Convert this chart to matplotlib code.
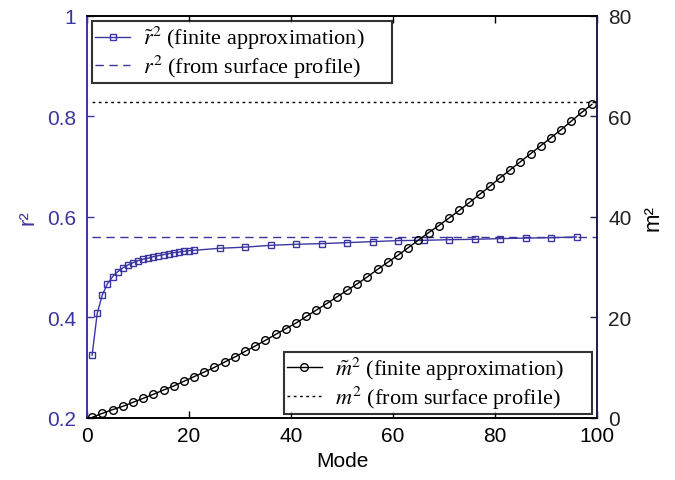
import matplotlib
matplotlib.use("Agg")
import matplotlib.pyplot as plt
import numpy as np

plt.rcParams['mathtext.fontset'] = 'stix'

# Data
r2_modes = list(range(1, 22)) + list(range(26, 97, 5))
r2_values = [0.325, 0.408, 0.445, 0.467, 0.481, 0.491, 0.4985, 0.5045, 0.509, 0.513,
             0.516, 0.518, 0.521, 0.523, 0.525, 0.527, 0.529, 0.530, 0.5317, 0.533, 0.5337,
             0.5377, 0.540, 0.5436, 0.5457, 0.547, 0.549, 0.551, 0.553, 0.5536, 0.5548,
             0.5556, 0.557, 0.558, 0.5588, 0.5602]
r2_surface = 0.561

m2_modes = list(range(1, 100, 2))
m2_values = [0.13, 0.93, 1.66, 2.32, 3.12, 3.91, 4.71, 5.57, 6.37, 7.30,
             8.23, 9.15, 10.08, 11.14, 12.14, 13.26, 14.33, 15.46, 16.65, 17.78,
             18.9, 20.2, 21.5, 22.75, 24.1, 25.4, 26.7, 28.1, 29.6, 31.0,
             32.4, 33.9, 35.4, 36.9, 38.3, 39.8, 41.3, 42.9, 44.5, 46.1,
             47.8, 49.4, 51.0, 52.6, 54.2, 55.8, 57.4, 59.1, 60.8, 62.4]
m2_surface = 62.9

line_span = [1, 100]

blue = '#3b35a0'
navy = '#1c1c4c'

fig = plt.figure(figsize=(6.75, 4.81), dpi=100)
ax = fig.add_axes([0.1289, 0.1289, 0.7555, 0.8358])
ax2 = ax.twinx()

tickfont = {'family': 'Liberation Sans', 'size': 15}
legfont = {'family': 'Liberation Serif', 'size': 16}

l1, = ax.plot(r2_modes, r2_values, '-s', color=blue, lw=1.0, ms=4.5,
              mfc='none', mec=blue, mew=1.0)
l2, = ax.plot(line_span, [r2_surface, r2_surface], '--', color=blue, lw=1.0,
              dashes=(6, 4))
l3, = ax2.plot(m2_modes, m2_values, '-o', color='black', lw=1.0, ms=5.5,
               mfc='none', mec='black', mew=1.0)
l4, = ax2.plot(line_span, [m2_surface, m2_surface], ':', color='black', lw=1.0,
               dashes=(2, 2.5))

ax.set_xlim(0, 100)
ax.set_ylim(0.2, 1.0)
ax2.set_ylim(0, 80)
ax.set_xticks([0, 20, 40, 60, 80, 100])
ax.set_yticks([0.2, 0.4, 0.6, 0.8, 1.0])
ax.set_yticklabels(['0.2', '0.4', '0.6', '0.8', '1'])
ax2.set_yticks([0, 20, 40, 60, 80])

ax.tick_params(axis='x', direction='in', top=True, length=5, width=1,
               labelsize=15, colors='black', pad=6)
ax.tick_params(axis='y', direction='in', length=5, width=1, labelsize=15,
               colors=blue, pad=8)
ax2.tick_params(axis='y', direction='in', length=5, width=1, labelsize=15,
                colors=navy, labelcolor='#222222', pad=8)

for lab in ax.get_xticklabels() + ax.get_yticklabels() + ax2.get_yticklabels():
    lab.set_fontfamily('Liberation Sans')

for a in (ax, ax2):
    a.spines['top'].set_color('black')
    a.spines['bottom'].set_color('black')
    a.spines['left'].set_color(blue)
    a.spines['right'].set_color(navy)
    for s in a.spines.values():
        s.set_linewidth(1.2)

ax.set_xlabel('Mode', fontdict=tickfont, labelpad=4)
ax.set_ylabel('r²', fontdict={'family': 'Liberation Sans', 'size': 16},
              color=blue, labelpad=6)
ax2.set_ylabel('m²', fontdict={'family': 'Liberation Sans', 'size': 16},
               color='black', labelpad=8)

leg_kw = dict(prop=legfont, frameon=True, fancybox=False, mode='expand',
              borderaxespad=0.0, handlelength=1.55, handletextpad=0.6,
              labelspacing=0.05, borderpad=0.15)

leg1 = ax.legend([l1, l2],
                 [r'$\tilde{r}^2$ (finite approximation)', r'$r^2$ (from surface profile)'],
                 loc='upper left', bbox_to_anchor=(0.0098, 0.6, 0.588, 0.3876),
                 **leg_kw)
leg1.get_frame().set_edgecolor('black')
leg1.get_frame().set_linewidth(1.5)

leg2 = ax2.legend([l3, l4],
                  [r'$\tilde{m}^2$ (finite approximation)', r'$m^2$ (from surface profile)'],
                  loc='lower left', bbox_to_anchor=(0.386, 0.01, 0.604, 0.3),
                  **leg_kw)
leg2.get_frame().set_edgecolor('black')
leg2.get_frame().set_linewidth(1.5)

fig.savefig('out.png', dpi=100)
